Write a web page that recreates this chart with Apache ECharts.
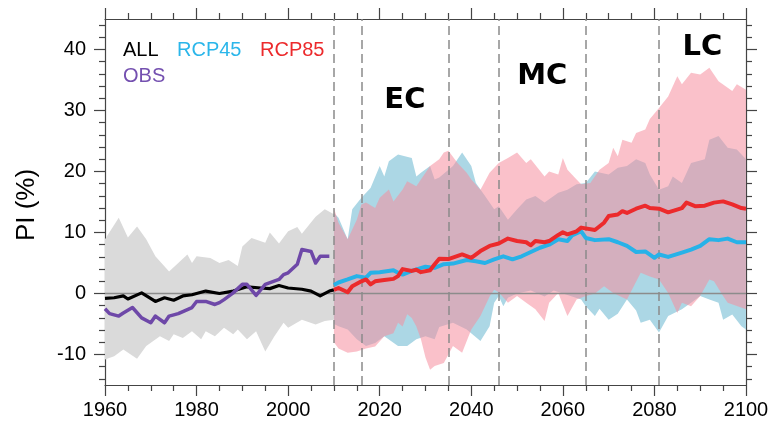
<!DOCTYPE html>
<html>
<head>
<meta charset="utf-8">
<script src="https://cdn.jsdelivr.net/npm/echarts@6/dist/echarts.min.js"></script>
<style>
  html, body { margin: 0; padding: 0; background: #ffffff; }
  #chart { width: 774px; height: 431px; }
</style>
</head>
<body>
<div id="chart"></div>
<script>
// ---- Data: [year, PI %] ----
const allHist = [[1960,-0.8],[1962,-0.7],[1964,-0.4],[1965,-0.9],[1968,0.1],[1971,-1.3],[1973,-0.7],[1975,-1.1],[1977,-0.4],[1979,-0.2],[1982,0.4],[1985,0.0],[1988,0.4],[1991,1.1],[1994,0.9],[1996,0.8],[1998,1.3],[2000,0.9],[2003,0.7],[2005,0.4],[2007,-0.4],[2009,0.4],[2010,0.6]];

const obs = [[1960,-2.5],[1961,-3.3],[1963,-3.7],[1964,-3.2],[1966,-2.3],[1968,-4.0],[1970,-4.8],[1971,-3.7],[1973,-4.8],[1974,-3.7],[1976,-3.3],[1979,-2.3],[1980,-1.3],[1982,-1.3],[1984,-1.8],[1985,-1.5],[1986,-1.0],[1988,0.1],[1990,1.5],[1991,1.5],[1993,-0.3],[1995,1.5],[1998,2.3],[1999,3.1],[2000,3.4],[2002,4.8],[2003,7.2],[2005,6.9],[2006,5.0],[2007,6.1],[2009,6.1]];

const allUpper = [[1960,8.9],[1963,12.4],[1965,9.2],[1967,11.0],[1969,8.9],[1971,6.1],[1974,3.6],[1976,5.0],[1978,6.4],[1979,5.0],[1980,6.1],[1983,5.8],[1985,5.0],[1987,5.5],[1989,4.5],[1990,7.7],[1992,9.1],[1995,8.3],[1996,10.0],[1998,8.2],[2000,10.2],[2002,10.9],[2003,9.8],[2006,12.6],[2008,13.8],[2010,13.0]];
const allLower = [[1960,-10.8],[1962,-10.3],[1964,-9.2],[1967,-10.7],[1969,-8.6],[1972,-7.0],[1974,-7.8],[1975,-6.7],[1977,-7.3],[1979,-6.2],[1981,-7.5],[1982,-6.2],[1984,-7.0],[1986,-5.6],[1988,-6.7],[1989,-5.9],[1991,-7.5],[1993,-6.2],[1995,-9.5],[1997,-7.0],[1999,-4.8],[2000,-5.6],[2003,-4.3],[2006,-5.1],[2008,-4.5],[2010,-4.3]];

const rcp45 = [[2010,1.4],[2011,1.8],[2013,2.3],[2015,2.85],[2017,2.6],[2018,3.4],[2020,3.5],[2023,3.8],[2024,3.4],[2025,3.1],[2027,3.7],[2030,4.4],[2032,4.2],[2034,4.8],[2036,4.9],[2039,5.5],[2041,5.3],[2043,5.0],[2045,5.6],[2047,6.1],[2049,5.6],[2051,6.1],[2053,6.8],[2055,7.5],[2057,8.0],[2059,8.9],[2061,8.6],[2062,9.5],[2064,10.2],[2065,9.1],[2067,8.75],[2070,8.9],[2072,8.4],[2074,7.8],[2076,6.8],[2078,6.9],[2080,5.85],[2081,6.4],[2083,6.0],[2086,6.7],[2088,7.2],[2090,7.8],[2092,8.9],[2094,8.75],[2096,9.0],[2098,8.4],[2100,8.4]];
const rcp45Upper = [[2010,13.2],[2011,12.4],[2013,8.9],[2014,13.8],[2016,15.7],[2018,17.3],[2020,20.9],[2021,19.2],[2022,21.7],[2024,22.8],[2027,22.2],[2028,19.2],[2029,19.8],[2031,20.9],[2032,18.7],[2033,19.0],[2036,20.9],[2038,23.1],[2040,20.9],[2041,18.1],[2043,16.0],[2045,13.8],[2046,14.3],[2048,12.1],[2050,13.8],[2052,15.4],[2054,16.0],[2056,14.9],[2059,16.5],[2061,17.0],[2063,17.9],[2065,18.1],[2067,20.0],[2070,19.5],[2072,20.6],[2074,20.9],[2076,22.0],[2078,21.4],[2079,19.5],[2081,17.0],[2083,17.6],[2084,19.2],[2086,18.1],[2088,21.4],[2091,22.0],[2092,25.2],[2094,25.8],[2096,23.9],[2098,23.6],[2100,22.0]];
const rcp45Lower = [[2010,-5.0],[2011,-5.35],[2013,-5.9],[2015,-7.5],[2017,-8.6],[2019,-8.1],[2021,-7.0],[2024,-8.6],[2026,-8.6],[2028,-7.5],[2030,-7.0],[2032,-7.5],[2033,-5.5],[2036,-4.8],[2039,-5.9],[2042,-7.8],[2044,-5.35],[2045,-1.5],[2046,-0.4],[2047,-2.1],[2048,-0.7],[2050,0.0],[2053,0.5],[2056,-0.5],[2058,0.5],[2060,0.0],[2062,-0.5],[2064,-1.0],[2065,-2.1],[2067,-3.7],[2068,-2.5],[2070,-4.3],[2072,-3.3],[2074,-1.0],[2076,-2.8],[2077,-4.8],[2079,-4.3],[2081,-6.4],[2083,-3.7],[2086,-2.6],[2088,-1.5],[2090,-0.4],[2092,-1.0],[2094,-1.5],[2095,-4.3],[2097,-3.45],[2099,-5.35],[2100,-5.9]];

const rcp85 = [[2010,0.6],[2011,0.9],[2013,0.2],[2014,1.2],[2016,2.0],[2017,2.3],[2018,1.5],[2019,2.0],[2021,2.2],[2023,2.4],[2024,2.85],[2025,4.0],[2027,3.7],[2028,3.9],[2029,3.5],[2031,3.8],[2032,4.8],[2033,5.7],[2035,5.65],[2038,6.4],[2040,5.85],[2042,6.95],[2044,7.8],[2046,8.2],[2048,9.0],[2050,8.6],[2052,8.4],[2053,7.9],[2054,8.6],[2056,8.4],[2057,8.6],[2059,9.6],[2060,10.05],[2061,9.7],[2063,10.2],[2064,10.8],[2067,10.4],[2069,11.6],[2070,12.7],[2072,12.95],[2073,13.5],[2074,13.2],[2076,13.9],[2078,14.4],[2079,14.0],[2081,13.9],[2083,13.3],[2086,14.0],[2087,14.9],[2089,14.3],[2091,14.4],[2093,14.9],[2095,15.1],[2097,14.6],[2099,14.0],[2100,13.9]];
const rcp85Upper = [[2010,14.0],[2011,11.6],[2013,8.9],[2015,12.1],[2016,14.6],[2017,14.9],[2019,14.0],[2020,15.7],[2022,17.05],[2023,15.1],[2025,17.05],[2026,18.4],[2028,17.6],[2030,19.8],[2031,20.9],[2033,22.0],[2034,23.1],[2035,23.4],[2037,21.4],[2039,19.8],[2040,18.7],[2042,17.0],[2044,19.8],[2046,21.4],[2048,22.2],[2050,23.1],[2052,21.4],[2053,22.0],[2056,19.2],[2057,20.0],[2059,19.5],[2060,22.2],[2061,20.3],[2063,18.7],[2064,17.9],[2066,18.1],[2068,20.3],[2070,21.4],[2071,23.9],[2072,22.5],[2073,25.2],[2075,24.7],[2076,26.3],[2078,26.9],[2079,28.6],[2081,30.4],[2083,32.3],[2085,35.6],[2086,34.3],[2088,36.2],[2090,35.9],[2092,37.0],[2094,34.8],[2097,33.2],[2098,34.3],[2100,33.4]];
const rcp85Lower = [[2010,-8.0],[2011,-9.0],[2013,-9.7],[2015,-9.5],[2017,-9.0],[2019,-8.7],[2021,-7.0],[2023,-6.5],[2024,-4.8],[2025,-5.4],[2026,-3.4],[2027,-4.0],[2028,-5.4],[2029,-7.5],[2030,-10.5],[2031,-12.5],[2032,-11.9],[2034,-11.4],[2036,-8.6],[2038,-9.7],[2040,-5.9],[2042,-3.7],[2044,-0.5],[2045,0.6],[2046,0.2],[2048,-1.5],[2050,-0.4],[2052,-1.5],[2054,-2.6],[2056,-4.5],[2057,-1.5],[2059,0.1],[2061,-3.7],[2063,-1.0],[2065,-0.4],[2067,0.0],[2069,1.2],[2071,0.1],[2074,-1.0],[2077,3.4],[2079,2.8],[2081,2.3],[2083,0.1],[2085,-3.2],[2086,-1.5],[2088,-2.1],[2090,-0.4],[2092,2.3],[2093,2.0],[2095,-0.4],[2096,-1.5],[2100,-2.6]];

// Period boundaries (dashed) and period names
const periodBounds = [2010, 2016, 2035, 2046, 2065, 2081];
const periods = [
  { name: 'EC', from: 2016, to: 2035, labelAt: 31.7 },
  { name: 'MC', from: 2046, to: 2065, labelAt: 35.5 },
  { name: 'LC', from: 2081, to: 2100, labelAt: 40.3 }
];

// Axis ticks
const yMajorTicks = [-10, 0, 10, 20, 30, 40];
const yMinorTicks = [-14, -12, -8, -6, -4, -2, 2, 4, 6, 8, 12, 14, 16, 18, 22, 24, 26, 28, 32, 34, 36, 38, 42, 44];
const zeroLine = [[1960, 0], [2100, 0]];

const FONT = 'Liberation Sans, Arial, sans-serif';
const FRAME = '#444444';

// Shaded spread drawn as a single polygon: upper edge forward, lower edge back.
function band(name, upper, lower, fill, z) {
  return {
    type: 'custom',
    name: name,
    z: z,
    silent: true,
    clip: true,
    data: [upper[0]],
    renderItem: function (params, api) {
      if (params.dataIndex !== 0) return null;
      const pts = upper.map(function (p) { return api.coord(p); })
        .concat(lower.slice().reverse().map(function (p) { return api.coord(p); }));
      return { type: 'polygon', shape: { points: pts }, style: { fill: fill, stroke: null } };
    }
  };
}

function line(name, data, color, width, z) {
  return {
    type: 'line', name: name, data: data, z: z,
    showSymbol: false, symbol: 'none', silent: true,
    lineStyle: { color: color, width: width, join: 'round' }
  };
}

function yAxisCfg(position, ticks, len, showLine, showLabels) {
  return {
    type: 'value', position: position, min: -15, max: 45,
    axisLine: { show: showLine, onZero: false, lineStyle: { color: FRAME, width: 1.2 } },
    axisTick: { show: true, inside: false, length: len, customValues: ticks, lineStyle: { color: FRAME, width: 1.2 } },
    axisLabel: showLabels
      ? { show: true, customValues: yMajorTicks, fontSize: 20, color: '#000', fontFamily: FONT, margin: 19 }
      : { show: false },
    splitLine: { show: false }
  };
}

function xAxisCfg(position, showLabels) {
  return {
    type: 'value', position: position, min: 1960, max: 2100, interval: 20,
    axisLine: { show: true, onZero: false, lineStyle: { color: FRAME, width: 1.2 } },
    axisTick: { show: true, inside: false, length: 11, lineStyle: { color: FRAME, width: 1.2 } },
    minorTick: { show: true, splitNumber: 4, length: 6, lineStyle: { color: FRAME, width: 1.2 } },
    axisLabel: showLabels
      ? { show: true, fontSize: 20, color: '#000', fontFamily: FONT, margin: 15, formatter: function (v) { return String(v); } }
      : { show: false },
    splitLine: { show: false },
    minorSplitLine: { show: false }
  };
}

const chart = echarts.init(document.getElementById('chart'), null, { renderer: 'canvas' });

chart.setOption({
  animation: false,
  backgroundColor: '#ffffff',
  grid: { left: 105, right: 28, top: 19, bottom: 46, containLabel: false },
  xAxis: [xAxisCfg('bottom', true), xAxisCfg('top', false)],
  yAxis: [
    yAxisCfg('left', yMajorTicks, 11, true, true),
    yAxisCfg('left', yMinorTicks, 6, false, false),
    yAxisCfg('right', yMajorTicks, 11, true, false),
    yAxisCfg('right', yMinorTicks, 6, false, false)
  ],
  series: [
    band('ALL spread', allUpper, allLower, '#dadada', 1),
    band('RCP45 spread', rcp45Upper, rcp45Lower, '#acd7e5', 2),
    band('RCP85 spread', rcp85Upper, rcp85Lower, 'rgba(246,142,158,0.55)', 3),
    {
      type: 'line', name: 'zero', data: zeroLine, z: 4, silent: true,
      showSymbol: false, symbol: 'none',
      lineStyle: { color: '#8c8c8c', width: 1.5 },
      markLine: {
        silent: true, symbol: ['none', 'none'], label: { show: false },
        lineStyle: { color: '#8a8a8a', width: 1.5, type: [9, 5] },
        data: periodBounds.map(function (x) { return { xAxis: x }; })
      }
    },
    line('ALL', allHist, '#000000', 3.2, 5),
    line('OBS', obs, '#6e48a8', 3.5, 6),
    line('RCP45', rcp45, '#27b2e8', 4, 7),
    line('RCP85', rcp85, '#ec2a2c', 4, 8),
    {
      type: 'scatter', name: 'periods', z: 9, silent: true,
      symbolSize: 0,
      itemStyle: { opacity: 1 },
      data: periods.map(function (p) { return { name: p.name, value: [(p.from + p.to) / 2, p.labelAt] }; }),
      label: {
        show: true, position: 'inside', formatter: '{b}', opacity: 1,
        fontSize: 29, fontWeight: 'bold', color: '#000000', fontFamily: 'DejaVu Sans, sans-serif',
        textBorderWidth: 0
      }
    }
  ],
  graphic: [
    { type: 'text', left: 123, top: 40, silent: true, style: { text: 'ALL', fill: '#000000', font: '20px ' + FONT } },
    { type: 'text', left: 177, top: 40, silent: true, style: { text: 'RCP45', fill: '#2bb6ea', font: '20px ' + FONT } },
    { type: 'text', left: 260, top: 40, silent: true, style: { text: 'RCP85', fill: '#ec2a2c', font: '20px ' + FONT } },
    { type: 'text', left: 123, top: 66, silent: true, style: { text: 'OBS', fill: '#7450b0', font: '20px ' + FONT } },
    {
      type: 'text', silent: true, x: 27, y: 205, rotation: Math.PI / 2,
      style: { text: 'PI (%)', fill: '#000', font: '26px ' + FONT, align: 'center', verticalAlign: 'middle' }
    }
  ]
});
</script>
</body>
</html>
